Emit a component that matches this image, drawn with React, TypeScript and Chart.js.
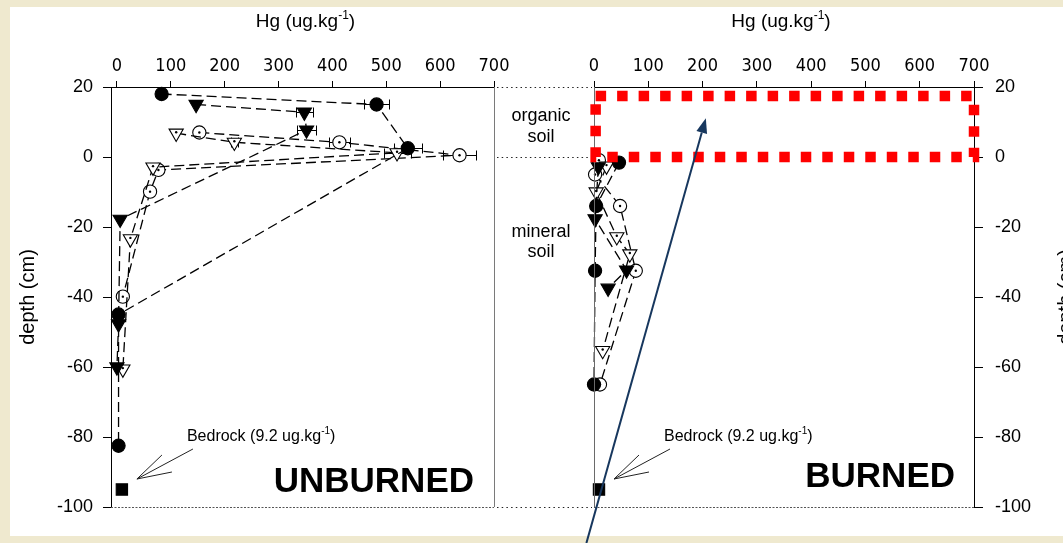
import React, { useEffect, useRef } from "react";
import { Chart, registerables } from "chart.js";

Chart.register(...registerables);

const W = 1063;
const H = 543;

// ---- axis ticks ----
const hgTicks = [0, 100, 200, 300, 400, 500, 600, 700];
const depthTicks = [20, 0, -20, -40, -60, -80, -100];

// ---- UNBURNED profile (Hg ug/kg vs depth cm) ----
const unbFilledCircleHg = [83, 482, 540, 3, 3];
const unbFilledCircleDepth = [18, 15, 2.5, -45, -82.5];
const unbFilledCircleErr = [0, 23, 26, 0, 0];

const unbFilledTriHg = [147, 348, 352, 6, 3, 0];
const unbFilledTriDepth = [15, 12.8, 7.7, -17.8, -47.7, -60];
const unbFilledTriErr = [0, 16, 17, 0, 0, 0];

const unbOpenTriHg = [110, 218, 520, 67, 25, 11];
const unbOpenTriDepth = [6.8, 4.2, 1.2, -2.9, -23.4, -60.6];
const unbOpenTriErr = [0, 6, 25, 0, 0, 0];

const unbOpenCircleHg = [153, 413, 636, 77, 61.5, 11];
const unbOpenCircleDepth = [7, 4.2, 0.5, -3.7, -9.9, -39.9];
const unbOpenCircleErr = [0, 20, 31, 0, 0, 0];

// ---- BURNED profile ----
const burFilledCircleHg = [46, 4, 2, 0];
const burFilledCircleDepth = [-1.6, -14, -32.5, -65];

const burFilledTriHg = [8, 2, 60, 26];
const burFilledTriDepth = [-2.8, -17.7, -32.3, -37.5];

const burOpenTriHg = [23, 4, 42, 66, 16];
const burOpenTriDepth = [-2.6, -10, -22.8, -27.7, -55.3];

const burOpenCircleHg = [9, 2, 48, 77, 11];
const burOpenCircleDepth = [-0.9, -5, -14, -32.5, -65];

// ---- bedrock ----
const bedrockHg = [9.2];
const bedrockDepth = [-95];

// highlighted organic layer (value space)
const organicBox = { hgMin: 3, hgMax: 700, depthMin: 0, depthMax: 17.4 };
// pointer arrow (value space of burned panel)
const pointerFrom = { hg: -14, depth: -110.3 };
const pointerTo = { hg: 206, depth: 11.1 };

// ---- layout (pixels) ----
const PANEL_TOP = 87;
const PANEL_BOTTOM = 507;
const L_RIGHT = 494;
const L_LEFT = 111;
const R_LEFT = 594;
const R_RIGHT = 974;

const FONT = "'Liberation Sans', Arial, Helvetica, sans-serif";
const NARROW = "'Liberation Sans Narrow', 'Arial Narrow', 'DejaVu Sans Condensed', 'Liberation Sans', Arial, sans-serif";

const toPts = (xs: number[], ys: number[]) => xs.map((x, i) => ({ x, y: ys[i] }));

type Kind = "circFilled" | "triFilled" | "triOpen" | "circOpen" | "square";

function series(xs: number[], ys: number[], kind: Kind, err?: number[]) {
  const isTri = kind === "triFilled" || kind === "triOpen";
  const open = kind === "triOpen" || kind === "circOpen";
  return {
    data: toPts(xs, ys),
    showLine: kind !== "square",
    borderColor: "#000",
    borderWidth: 1.3,
    borderDash: [10, 5],
    pointStyle: kind === "square" ? "rect" : isTri ? "triangle" : "circle",
    pointRotation: isTri ? 180 : 0,
    pointRadius: kind === "square" ? 8 : isTri ? 8.2 : 6.6,
    pointBackgroundColor: open ? "#fff" : "#000",
    pointBorderColor: "#000",
    pointBorderWidth: 1.1,
    clip: false,
    errX: err,
    centerDot: open,
  } as any;
}

function scalesFor(xMin: number, yPos: "left" | "right", yWidth: number) {
  return {
    x: {
      type: "linear",
      position: "top",
      min: xMin,
      max: 700,
      afterBuildTicks: (a: any) => {
        a.ticks = hgTicks.map((v) => ({ value: v }));
      },
      afterFit: (a: any) => {
        a.height = PANEL_TOP;
      },
      ticks: {
        color: "#000",
        font: { family: NARROW, size: 18 },
        padding: 4,
        maxRotation: 0,
        autoSkip: false,
        callback: (v: any) => String(v),
      },
      grid: { drawOnChartArea: false, drawTicks: true, tickLength: 6, color: "#000", lineWidth: 1 },
      border: { display: true, color: "#000", width: 1 },
    },
    y: {
      type: "linear",
      position: yPos,
      min: -100,
      max: 20,
      afterBuildTicks: (a: any) => {
        a.ticks = depthTicks.map((v) => ({ value: v }));
      },
      afterFit: (a: any) => {
        a.width = yWidth;
      },
      ticks: {
        color: "#000",
        font: { family: FONT, size: 18 },
        padding: yPos === "left" ? 10 : 12,
        autoSkip: false,
        callback: (v: any) => String(v),
      },
      grid: { drawOnChartArea: false, drawTicks: true, tickLength: yPos === "left" ? 8 : 9, color: "#000", lineWidth: 1 },
      border: { display: true, color: "#000", width: 1 },
    },
  };
}

function seg(ctx: CanvasRenderingContext2D, x1: number, y1: number, x2: number, y2: number) {
  ctx.beginPath();
  ctx.moveTo(x1, y1);
  ctx.lineTo(x2, y2);
  ctx.stroke();
}

function supText(ctx: CanvasRenderingContext2D, base: string, sup: string, tail: string, x: number, baseline: number, size: number, align: "left" | "center") {
  ctx.font = `${size}px ${FONT}`;
  const w1 = ctx.measureText(base).width;
  const w3 = ctx.measureText(tail).width;
  const ss = Math.round(size * 0.62);
  ctx.font = `${ss}px ${FONT}`;
  const w2 = ctx.measureText(sup).width;
  const sx = align === "center" ? x - (w1 + w2 + w3) / 2 : x;
  ctx.textAlign = "left";
  ctx.textBaseline = "alphabetic";
  ctx.fillStyle = "#000";
  ctx.font = `${size}px ${FONT}`;
  ctx.fillText(base, sx, baseline);
  ctx.font = `${ss}px ${FONT}`;
  ctx.fillText(sup, sx + w1, baseline - size * 0.42);
  ctx.font = `${size}px ${FONT}`;
  ctx.fillText(tail, sx + w1 + w2, baseline);
}

const errBarPlugin = {
  id: "errBars",
  beforeDatasetsDraw(chart: any) {
    const ctx = chart.ctx as CanvasRenderingContext2D;
    const xs = chart.scales.x;
    const ys = chart.scales.y;
    ctx.save();
    ctx.strokeStyle = "#000";
    ctx.lineWidth = 1;
    ctx.setLineDash([]);
    chart.data.datasets.forEach((d: any) => {
      if (!d.errX) return;
      d.data.forEach((p: any, i: number) => {
        const e = d.errX[i];
        if (!e) return;
        const y = Math.round(ys.getPixelForValue(p.y)) + 0.5;
        const x1 = Math.round(xs.getPixelForValue(p.x - e)) + 0.5;
        const x2 = Math.round(xs.getPixelForValue(p.x + e)) + 0.5;
        seg(ctx, x1, y, x2, y);
        seg(ctx, x1, y - 5, x1, y + 5);
        seg(ctx, x2, y - 5, x2, y + 5);
      });
    });
    ctx.restore();
  },
};

const centerDotPlugin = {
  id: "centerDots",
  afterDatasetsDraw(chart: any) {
    const ctx = chart.ctx as CanvasRenderingContext2D;
    ctx.save();
    ctx.fillStyle = "#000";
    chart.data.datasets.forEach((d: any, di: number) => {
      if (!d.centerDot) return;
      const meta = chart.getDatasetMeta(di);
      const tri = d.pointStyle === "triangle";
      meta.data.forEach((el: any) => {
        ctx.beginPath();
        ctx.arc(el.x, el.y - (tri ? 1 : 0), 1.2, 0, Math.PI * 2);
        ctx.fill();
      });
    });
    ctx.restore();
  },
};

function drawBedrock(ctx: CanvasRenderingContext2D, x0: number) {
  ctx.save();
  supText(ctx, "Bedrock (9.2 ug.kg", "-1", ")", x0 + 70, 441, 16, "left");
  ctx.strokeStyle = "#222";
  ctx.lineWidth = 1;
  const tipX = x0 + 20;
  const tipY = 479;
  seg(ctx, x0 + 76, 449, tipX, tipY);
  seg(ctx, x0 + 45, 455, tipX, tipY);
  seg(ctx, x0 + 55, 472, tipX, tipY);
  ctx.restore();
}

function drawDepthTitle(ctx: CanvasRenderingContext2D, cx: number, cy: number) {
  ctx.save();
  ctx.translate(cx, cy);
  ctx.rotate(-Math.PI / 2);
  ctx.font = `20px ${FONT}`;
  ctx.fillStyle = "#000";
  ctx.textAlign = "center";
  ctx.textBaseline = "middle";
  ctx.fillText("depth (cm)", 0, 0);
  ctx.restore();
}

const leftAnnot = {
  id: "leftAnnot",
  afterDatasetsDraw(chart: any) {
    const ctx = chart.ctx as CanvasRenderingContext2D;
    const ca = chart.chartArea;
    const xs = chart.scales.x;
    const ys = chart.scales.y;
    ctx.save();
    ctx.lineWidth = 1;
    ctx.strokeStyle = "#7a7a7a";
    seg(ctx, Math.round(ca.right) + 0.5, ca.top, Math.round(ca.right) + 0.5, ca.bottom);
    ctx.setLineDash([2, 1.5]);
    ctx.strokeStyle = "#555";
    seg(ctx, ca.left, Math.round(ca.bottom) + 0.5, ca.right, Math.round(ca.bottom) + 0.5);
    ctx.setLineDash([1.5, 3.2]);
    ctx.strokeStyle = "#222";
    [20, 0, -100].forEach((v) => {
      const py = Math.round(ys.getPixelForValue(v)) + 0.5;
      seg(ctx, ca.right + 3, py, R_LEFT - 2, py);
    });
    ctx.setLineDash([]);
    ctx.fillStyle = "#000";
    ctx.font = `18px ${FONT}`;
    ctx.textAlign = "center";
    ctx.textBaseline = "alphabetic";
    const mid = (ca.right + R_LEFT) / 2 - 3;
    ctx.fillText("organic", mid, 121);
    ctx.fillText("soil", mid, 142);
    ctx.fillText("mineral", mid, 237);
    ctx.fillText("soil", mid, 257);
    supText(ctx, "Hg (ug.kg", "-1", ")", (ca.left + ca.right) / 2 + 3, 27, 19, "center");
    drawDepthTitle(ctx, 28, (ca.top + ca.bottom) / 2);
    drawBedrock(ctx, xs.getPixelForValue(0));
    ctx.font = `bold 35px ${FONT}`;
    ctx.textAlign = "right";
    ctx.textBaseline = "alphabetic";
    ctx.fillStyle = "#000";
    ctx.fillText("UNBURNED", ca.right - 20, 492);
    ctx.restore();
  },
};

const rightAnnot = {
  id: "rightAnnot",
  afterDatasetsDraw(chart: any) {
    const ctx = chart.ctx as CanvasRenderingContext2D;
    const ca = chart.chartArea;
    const xs = chart.scales.x;
    const ys = chart.scales.y;
    ctx.save();
    ctx.lineWidth = 1;
    ctx.strokeStyle = "#6a6a6a";
    seg(ctx, Math.round(ca.left) + 0.5, ca.top, Math.round(ca.left) + 0.5, ca.bottom);
    ctx.setLineDash([2, 1.5]);
    ctx.strokeStyle = "#555";
    seg(ctx, ca.left, Math.round(ca.bottom) + 0.5, ca.right, Math.round(ca.bottom) + 0.5);
    ctx.setLineDash([]);

    const bx1 = xs.getPixelForValue(organicBox.hgMin);
    const bx2 = xs.getPixelForValue(organicBox.hgMax);
    const by1 = ys.getPixelForValue(organicBox.depthMax);
    const by2 = ys.getPixelForValue(organicBox.depthMin);
    ctx.strokeStyle = "#ff0000";
    ctx.lineWidth = 10.5;
    ctx.setLineDash([10.5, 11]);
    ctx.lineCap = "butt";
    ctx.beginPath();
    ctx.moveTo(bx1, by1);
    ctx.lineTo(bx2, by1);
    ctx.lineTo(bx2, by2);
    ctx.lineTo(bx1, by2);
    ctx.closePath();
    ctx.stroke();
    ctx.setLineDash([]);

    const ax1 = xs.getPixelForValue(pointerFrom.hg);
    const ay1 = ys.getPixelForValue(pointerFrom.depth);
    const ax2 = xs.getPixelForValue(pointerTo.hg);
    const ay2 = ys.getPixelForValue(pointerTo.depth);
    const ang = Math.atan2(ay2 - ay1, ax2 - ax1);
    const hl = 15;
    const hw = 5.5;
    ctx.strokeStyle = "#17375e";
    ctx.fillStyle = "#17375e";
    ctx.lineWidth = 2;
    const bxh = ax2 - Math.cos(ang) * hl;
    const byh = ay2 - Math.sin(ang) * hl;
    seg(ctx, ax1, ay1, bxh, byh);
    ctx.beginPath();
    ctx.moveTo(ax2, ay2);
    ctx.lineTo(bxh + Math.sin(ang) * hw, byh - Math.cos(ang) * hw);
    ctx.lineTo(bxh - Math.sin(ang) * hw, byh + Math.cos(ang) * hw);
    ctx.closePath();
    ctx.fill();

    supText(ctx, "Hg (ug.kg", "-1", ")", (ca.left + ca.right) / 2 - 3, 27, 19, "center");
    drawDepthTitle(ctx, 1066, (ca.top + ca.bottom) / 2);
    drawBedrock(ctx, xs.getPixelForValue(0));

    ctx.font = `bold 35px ${FONT}`;
    ctx.textAlign = "right";
    ctx.textBaseline = "alphabetic";
    ctx.fillStyle = "#000";
    ctx.fillText("BURNED", ca.right - 19, 487);
    ctx.restore();
  },
};

export default function App() {
  const ref1 = useRef<HTMLCanvasElement>(null);
  const ref2 = useRef<HTMLCanvasElement>(null);

  useEffect(() => {
    const common = {
      animation: false,
      responsive: false,
      events: [],
      plugins: { legend: { display: false }, tooltip: { enabled: false }, title: { display: false } },
    };

    const c1 = new Chart(ref1.current!, {
      type: "scatter",
      data: {
        datasets: [
          series(unbFilledCircleHg, unbFilledCircleDepth, "circFilled", unbFilledCircleErr),
          series(unbFilledTriHg, unbFilledTriDepth, "triFilled", unbFilledTriErr),
          series(unbOpenTriHg, unbOpenTriDepth, "triOpen", unbOpenTriErr),
          series(unbOpenCircleHg, unbOpenCircleDepth, "circOpen", unbOpenCircleErr),
          series(bedrockHg, bedrockDepth, "square"),
        ],
      },
      options: {
        ...common,
        layout: { padding: { left: 0, right: W - L_RIGHT, top: 0, bottom: H - PANEL_BOTTOM } },
        scales: scalesFor(-11, "left", L_LEFT) as any,
      } as any,
      plugins: [errBarPlugin, centerDotPlugin, leftAnnot],
    });

    const c2 = new Chart(ref2.current!, {
      type: "scatter",
      data: {
        datasets: [
          series(burFilledCircleHg, burFilledCircleDepth, "circFilled"),
          series(burFilledTriHg, burFilledTriDepth, "triFilled"),
          series(burOpenTriHg, burOpenTriDepth, "triOpen"),
          series(burOpenCircleHg, burOpenCircleDepth, "circOpen"),
          series(bedrockHg, bedrockDepth, "square"),
        ],
      },
      options: {
        ...common,
        layout: { padding: { left: R_LEFT, right: 0, top: 0, bottom: H - PANEL_BOTTOM } },
        scales: scalesFor(0, "right", W - R_RIGHT) as any,
      } as any,
      plugins: [errBarPlugin, centerDotPlugin, rightAnnot],
    });

    return () => {
      c1.destroy();
      c2.destroy();
    };
  }, []);

  return (
    <div style={{ position: "fixed", left: 0, top: 0, width: W, height: H, background: "#efe9cf", overflow: "hidden" }}>
      <div style={{ position: "absolute", left: 10, top: 7, width: W - 10, height: H - 14, background: "#ffffff" }} />
      <canvas ref={ref1} width={W} height={H} style={{ position: "absolute", left: 0, top: 0 }} />
      <canvas ref={ref2} width={W} height={H} style={{ position: "absolute", left: 0, top: 0 }} />
    </div>
  );
}
